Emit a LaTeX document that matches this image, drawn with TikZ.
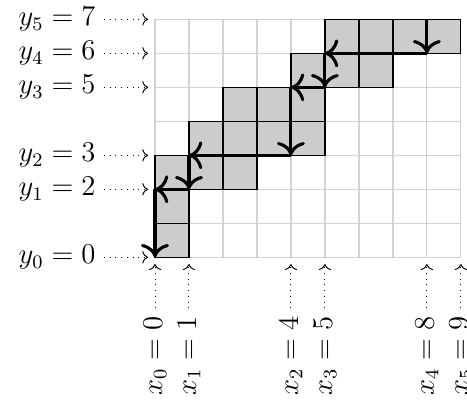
\documentclass[tikz,border=0pt]{standalone}
\usepackage{tikz}
\usetikzlibrary{arrows.meta,calc,positioning}
\definecolor{StairLine}{HTML}{000000}
\definecolor{StairGrid}{HTML}{D2D2D2}
\definecolor{StairFill}{HTML}{CCCCCC}
\tikzset{
  cellbox/.style={fill=StairFill,draw=StairLine,line width=0.5pt},
  walk/.style={StairLine,line width=1.3pt,-{To[scale=1.25]}},
  guide/.style={StairLine,dotted,->},
}

\begin{document}
\begin{tikzpicture}[x=0.5cm,y=0.5cm,font=\fontsize{11.8}{14}\selectfont]
  \useasboundingbox (-4.56,-4.31) rectangle (9.18,7.57);
  % light grid
  \draw[StairGrid,line width=0.5pt,step=0.5cm] (0,0) grid (9,7);
  % shaded cells (column/row)
  \foreach \c/\r in {0/0,0/1,0/2,1/2,1/3,2/2,2/3,2/4,3/3,3/4,
                     4/3,4/4,4/5,5/5,5/6,6/5,6/6,7/6,8/6}
    \draw[cellbox] (\c,\r) rectangle ++(1,1);
  % staircase walk
  \coordinate (w0) at (8,7);
  \coordinate (w1) at (8,6);
  \coordinate (w2) at (5,6);
  \coordinate (w3) at (5,5);
  \coordinate (w4) at (4,5);
  \coordinate (w5) at (4,3);
  \coordinate (w6) at (1,3);
  \coordinate (w7) at (1,2);
  \coordinate (w8) at (0,2);
  \coordinate (w9) at (0,0);
  \foreach \a/\b in {w0/w1,w1/w2,w2/w3,w3/w4,w4/w5,w5/w6,w6/w7,w7/w8,w8/w9}
    \draw[walk] (\a) -- (\b);
  % row labels
  \foreach \i/\v in {0/0,1/2,2/3,3/5,4/6,5/7} {
    \node[anchor=east] (ylab\i) at (-1.5,\v) {$y_{\i} = \v$};
    \coordinate (ytip\i) at (-0.2,\v);
    \draw[guide] (ylab\i) -- (ytip\i);
  }
  % column labels
  \foreach \i/\v in {0/0,1/1,2/4,3/5,4/8,5/9} {
    \node[anchor=east,rotate=90] (xlab\i) at (\v,-1.5) {$x_{\i} = \v$};
    \coordinate (xtip\i) at (\v,-0.2);
    \draw[guide] (xlab\i) -- (xtip\i);
  }
\end{tikzpicture}
\end{document}
